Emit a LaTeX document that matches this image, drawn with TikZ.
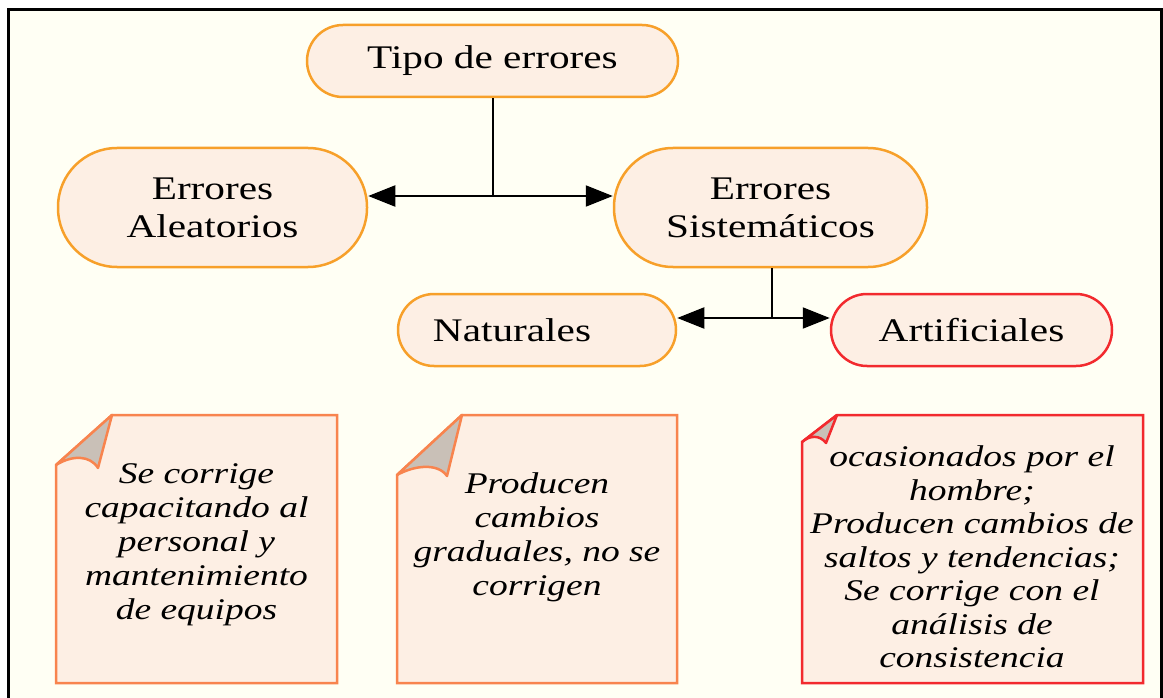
\documentclass[tikz,border=0pt]{standalone}
\usepackage{fontspec}
\setmainfont{Liberation Serif}[FakeStretch=1.25]
\usetikzlibrary{arrows.meta}
\definecolor{bg}{HTML}{FFFFF4}
\definecolor{nodefill}{HTML}{FDEFE4}
\definecolor{orangeb}{HTML}{F7A02A}
\definecolor{redb}{HTML}{F22A2E}
\definecolor{coral}{HTML}{F8844E}
\definecolor{foldgray}{HTML}{C9C0B7}
\begin{document}
\begin{tikzpicture}[x=1pt,y=-1pt,
  pill/.style={draw=orangeb, fill=nodefill, line width=2.5pt, align=center, inner sep=0pt, font=\fontsize{33}{38}\selectfont},
  conn/.style={draw=black, line width=2pt},
  arr/.style={conn, -{Triangle[length=27pt,width=21pt]}},
  notebody/.style={fill=nodefill, draw=coral, line width=2.5pt, line join=miter},
  notefold/.style={fill=foldgray, draw=coral, line width=2.5pt, line join=round},
  notetext/.style={align=center, inner sep=0pt, font=\itshape\fontsize{30}{34}\selectfont}]
\useasboundingbox (0,0) rectangle (1163,698);
\clip (0,0) rectangle (1163,698);
\fill[white] (0,0) rectangle (1163,698);
\draw[fill=bg, line width=3pt] (8.5,10) rectangle (1161.5,720);

% main nodes
\node[pill, minimum width=371pt, minimum height=72pt, rounded corners=36pt] (tipo) at (492.5,61) {Tipo de errores};
\node[pill, minimum width=309pt, minimum height=119pt, rounded corners=59pt] (alea) at (212.5,207.5) {Errores\\Aleatorios};
\node[pill, minimum width=313pt, minimum height=119pt, rounded corners=59pt] (sist) at (770.5,207.5) {Errores\\Sistemáticos};
\node[pill, minimum width=278pt, minimum height=72pt, rounded corners=36pt] (nat) at (537,330) {\hspace*{-50pt}Naturales};
\node[pill, draw=redb, minimum width=281pt, minimum height=72pt, rounded corners=36pt] (art) at (971.5,330) {Artificiales};

% connectors
\coordinate (j1) at (492.5,196);
\draw[conn] (tipo.south) -- (j1);
\draw[arr] (j1) -- (alea.east |- j1);
\draw[arr] (j1) -- (sist.west |- j1);
\coordinate (j2) at (772,318);
\draw[conn] (sist.south -| j2) -- (j2);
\draw[arr] (j2) -- (nat.east |- j2);
\draw[arr] (j2) -- (art.west |- j2);

% notes
\draw[notebody] (56,465) -- (112,415) -- (337,415) -- (337,683) -- (56,683) -- cycle;
\draw[notefold] (56,465) .. controls (72,455) and (90,455) .. (98,468) -- (112,415) -- cycle;
\node[notetext] (t1) at (196.5,545) {Se corrige\\capacitando al\\personal y\\mantenimiento\\de equipos};

\draw[notebody] (397,475) -- (462,415) -- (677,415) -- (677,683) -- (397,683) -- cycle;
\draw[notefold] (397,475) .. controls (415,465) and (438,463) .. (447,476) -- (462,415) -- cycle;
\node[notetext] (t2) at (537,537) {Producen\\cambios\\graduales, no se\\corrigen};

\draw[notebody, draw=redb] (802,442) -- (837,415) -- (1143,415) -- (1143,683) -- (802,683) -- cycle;
\draw[notefold, draw=redb] (802,442) .. controls (810,435) and (820,435) .. (826,443) -- (837,415) -- cycle;
\node[notetext, font=\itshape\fontsize{30}{33.5}\selectfont] (t3) at (972,557) {ocasionados por el\\hombre;\\Producen cambios de\\saltos y tendencias;\\Se corrige con el\\análisis de\\consistencia};
\end{tikzpicture}
\end{document}
